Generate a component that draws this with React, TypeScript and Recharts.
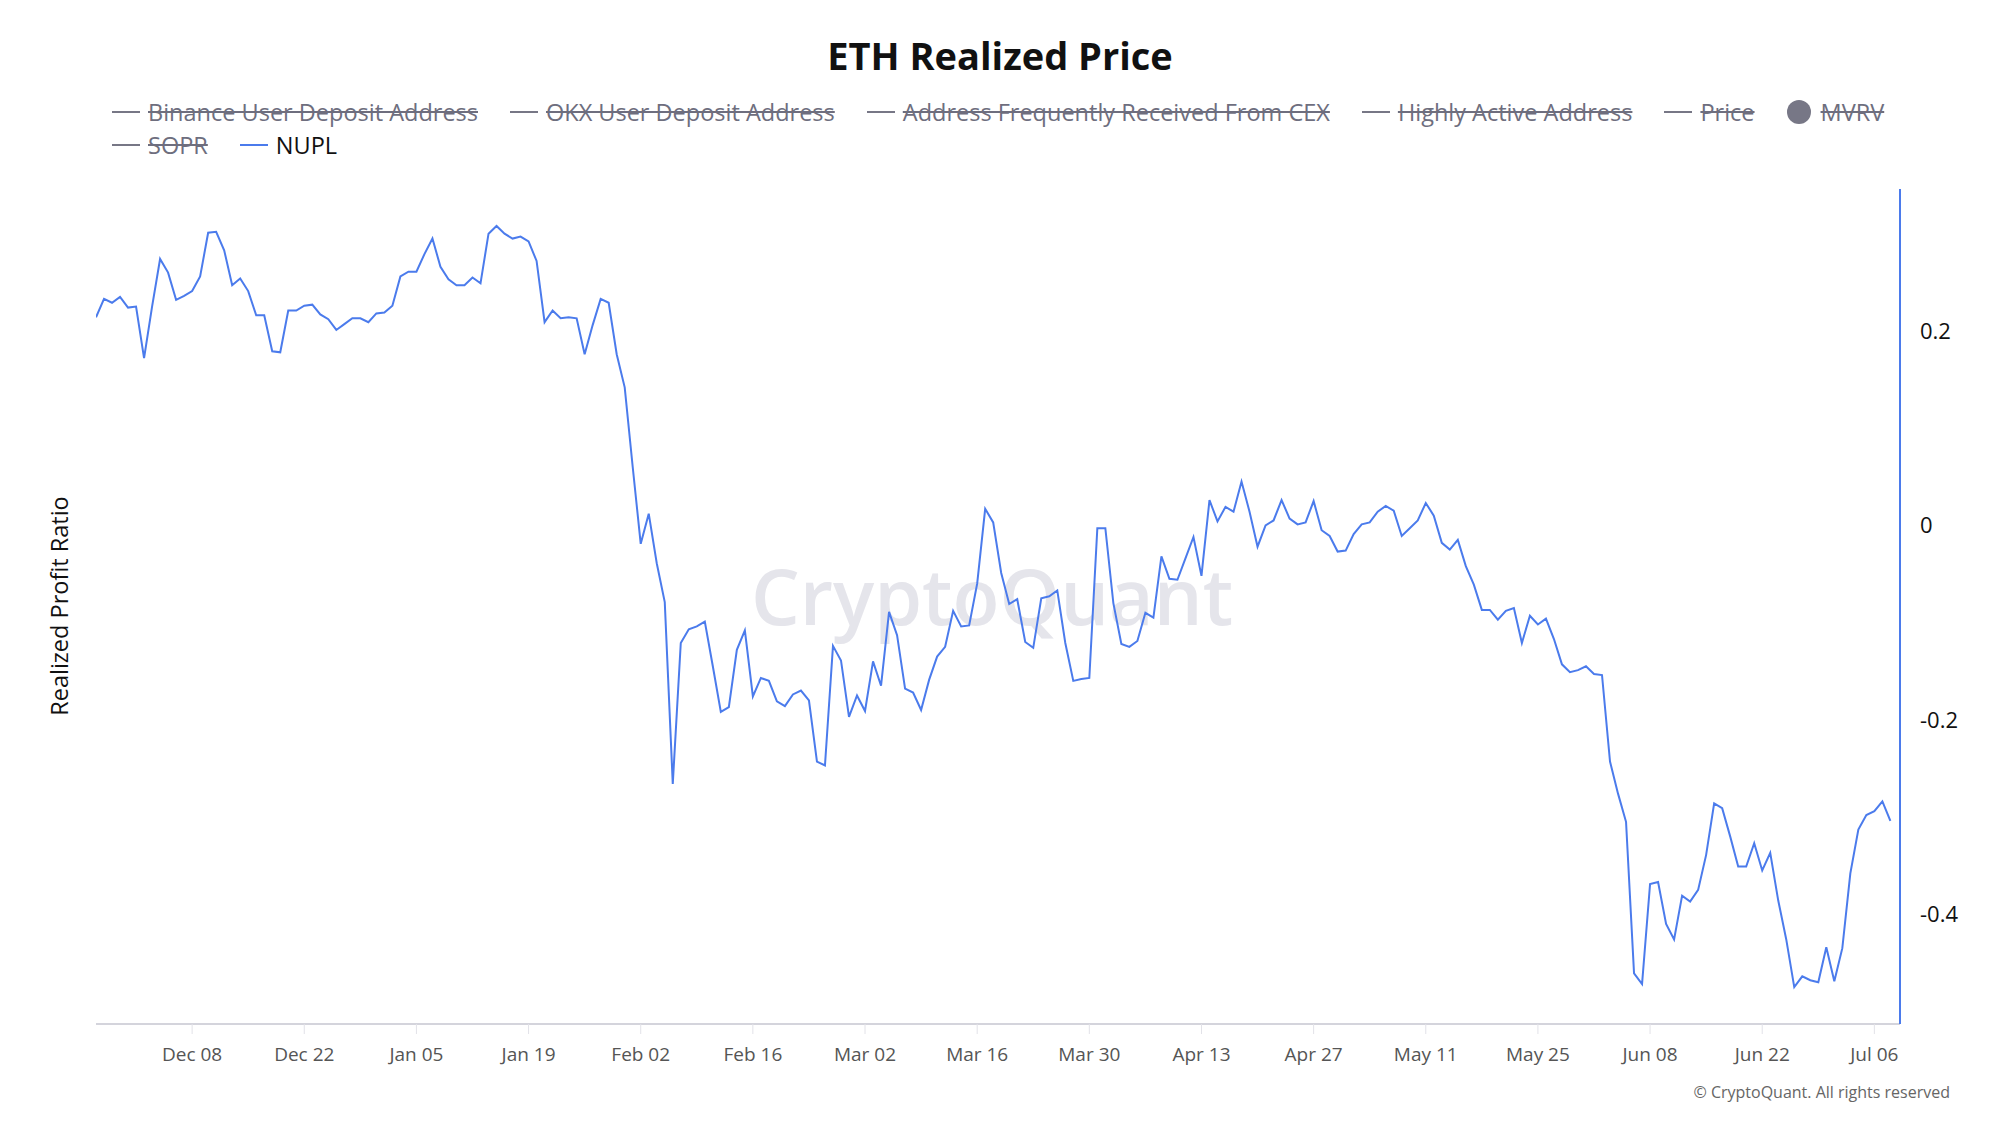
import React from 'react';
import { LineChart, Line, XAxis, YAxis } from 'recharts';

// daily NUPL values, 2024-11-26 .. 2025-07-08
const startDate = '2024-11-26';
const nupl = [
  0.214, 0.233, 0.229, 0.235, 0.224, 0.225, 0.172, 0.225, 0.274, 0.260,
  0.232, 0.236, 0.241, 0.256, 0.301, 0.302, 0.283, 0.247, 0.254, 0.241,
  0.216, 0.216, 0.179, 0.178, 0.221, 0.221, 0.226, 0.227, 0.217, 0.212,
  0.201, 0.207, 0.213, 0.213, 0.209, 0.218, 0.219, 0.226, 0.256, 0.261,
  0.261, 0.279, 0.295, 0.266, 0.253, 0.247, 0.247, 0.255, 0.249, 0.300,
  0.308, 0.300, 0.295, 0.297, 0.292, 0.272, 0.209, 0.221, 0.213, 0.214,
  0.213, 0.176, 0.206, 0.233, 0.229, 0.176, 0.142, 0.060, -0.019, 0.012,
  -0.039, -0.079, -0.266, -0.121, -0.107, -0.104, -0.099, -0.145, -0.192, -0.187,
  -0.128, -0.108, -0.176, -0.157, -0.160, -0.181, -0.186, -0.174, -0.170, -0.180,
  -0.243, -0.247, -0.124, -0.139, -0.197, -0.175, -0.191, -0.140, -0.165, -0.089,
  -0.113, -0.168, -0.172, -0.190, -0.159, -0.135, -0.125, -0.088, -0.104, -0.103,
  -0.060, 0.017, 0.003, -0.049, -0.081, -0.076, -0.120, -0.126, -0.075, -0.073,
  -0.067, -0.121, -0.160, -0.158, -0.157, -0.003, -0.003, -0.080, -0.122, -0.125,
  -0.119, -0.090, -0.095, -0.032, -0.055, -0.056, -0.034, -0.012, -0.052, 0.026,
  0.004, 0.019, 0.014, 0.045, 0.014, -0.022, 0.000, 0.005, 0.026, 0.007,
  0.001, 0.003, 0.025, -0.005, -0.011, -0.027, -0.026, -0.009, 0.001, 0.003,
  0.014, 0.020, 0.015, -0.011, -0.003, 0.005, 0.023, 0.010, -0.018, -0.025,
  -0.015, -0.042, -0.061, -0.087, -0.087, -0.097, -0.088, -0.085, -0.121, -0.093,
  -0.102, -0.096, -0.117, -0.143, -0.151, -0.149, -0.145, -0.153, -0.154, -0.243,
  -0.276, -0.305, -0.461, -0.472, -0.369, -0.367, -0.410, -0.426, -0.381, -0.387,
  -0.375, -0.339, -0.286, -0.291, -0.320, -0.351, -0.351, -0.327, -0.355, -0.337,
  -0.386, -0.426, -0.475, -0.464, -0.468, -0.470, -0.434, -0.469, -0.435, -0.358,
  -0.313, -0.298, -0.294, -0.284, -0.304,
];

// x ticks (day index from start) and their labels
const xTickDays = [12, 26, 40, 54, 68, 82, 96, 110, 124, 138, 152, 166, 180, 194, 208, 222];
const xTickLabels = [
  'Dec 08', 'Dec 22', 'Jan 05', 'Jan 19', 'Feb 02', 'Feb 16', 'Mar 02', 'Mar 16',
  'Mar 30', 'Apr 13', 'Apr 27', 'May 11', 'May 25', 'Jun 08', 'Jun 22', 'Jul 06',
];
const yTicks = [-0.4, -0.2, 0, 0.2];

// legend: first row, second row; hidden = struck through
const legendRow1 = [
  { name: 'Binance User Deposit Address', icon: 'line', hidden: true },
  { name: 'OKX User Deposit Address', icon: 'line', hidden: true },
  { name: 'Address Frequently Received From CEX', icon: 'line', hidden: true },
  { name: 'Highly Active Address', icon: 'line', hidden: true },
  { name: 'Price', icon: 'line', hidden: true },
  { name: 'MVRV', icon: 'circle', hidden: true },
];
const legendRow2 = [
  { name: 'SOPR', icon: 'line', hidden: true },
  { name: 'NUPL', icon: 'line', hidden: false },
];

const BLUE = '#4b7bec';
const FONT = '"Open Sans", "Noto Sans", sans-serif';

const data = nupl.map((v, i) => {
  const d = new Date(startDate + 'T00:00:00Z');
  d.setUTCDate(d.getUTCDate() + i);
  return { day: i, date: d.toISOString().slice(0, 10), nupl: v };
});

const LegendItem = ({ item }: { item: { name: string; icon: string; hidden: boolean } }) => (
  <div style={{ display: 'flex', alignItems: 'center' }}>
    {item.icon === 'circle' ? (
      <span
        style={{
          width: 24,
          height: 24,
          borderRadius: 12,
          background: '#777786',
          display: 'inline-block',
          marginRight: 10,
        }}
      />
    ) : (
      <span
        style={{
          width: 28,
          height: 2,
          background: item.hidden ? '#777786' : BLUE,
          display: 'inline-block',
          marginRight: 8,
        }}
      />
    )}
    <span
      style={{
        color: item.hidden ? '#6e6e7e' : '#111',
        textDecoration: item.hidden ? 'line-through' : 'none',
      }}
    >
      {item.name}
    </span>
  </div>
);

export default function App() {
  return (
    <div
      style={{
        position: 'absolute',
        left: 0,
        top: 0,
        width: 2000,
        height: 1125,
        background: '#fff',
        fontFamily: FONT,
        overflow: 'hidden',
      }}
    >
      <div
        style={{
          position: 'absolute',
          top: 29,
          width: 2000,
          textAlign: 'center',
          fontSize: 38,
          fontWeight: 700,
          color: '#111',
        }}
      >
        ETH Realized Price
      </div>

      <div style={{ position: 'absolute', left: 112, top: 95, fontSize: 23.5 }}>
        <div style={{ display: 'flex', gap: 32, height: 33 }}>
          {legendRow1.map((it) => (
            <LegendItem key={it.name} item={it} />
          ))}
        </div>
        <div style={{ display: 'flex', gap: 32, height: 33 }}>
          {legendRow2.map((it) => (
            <LegendItem key={it.name} item={it} />
          ))}
        </div>
      </div>

      {/* watermark */}
      <div
        style={{
          position: 'absolute',
          top: 543,
          left: 0,
          width: 1984,
          textAlign: 'center',
          fontSize: 77,
          fontWeight: 600,
          color: '#e5e5eb',
        }}
      >
        CryptoQuant
      </div>

      <div
        style={{
          position: 'absolute',
          left: 59,
          top: 606,
          transform: 'translate(-50%, -50%) rotate(-90deg)',
          fontSize: 23.5,
          color: '#111',
          whiteSpace: 'nowrap',
        }}
      >
        Realized Profit Ratio
      </div>

      <div style={{ position: 'absolute', left: 0, top: 0 }}>
        <LineChart
          width={2000}
          height={1125}
          data={data}
          margin={{ top: 189, right: 20, bottom: 41, left: 96 }}
        >
          <XAxis
            dataKey="day"
            type="number"
            domain={[0, 225.2]}
            ticks={xTickDays}
            interval={0}
            tickFormatter={(v: number) => xTickLabels[xTickDays.indexOf(v)] ?? ''}
            height={60}
            axisLine={{ stroke: '#d4d4dc', strokeWidth: 2 }}
            tickLine={{ stroke: '#e2e2e8' }}
            tickSize={10}
            tickMargin={14}
            tick={{ fill: '#555', fontSize: 19 }}
            allowDataOverflow
          />
          <YAxis
            orientation="right"
            domain={[-0.513, 0.346]}
            ticks={yTicks}
            interval={0}
            width={80}
            axisLine={{ stroke: BLUE, strokeWidth: 2 }}
            tickLine={false}
            tickSize={8}
            tickMargin={12}
            tick={{ fill: '#111', fontSize: 22 }}
            allowDataOverflow
          />
          <Line
            type="linear"
            dataKey="nupl"
            name="NUPL"
            stroke={BLUE}
            strokeWidth={2}
            dot={false}
            isAnimationActive={false}
          />
        </LineChart>
      </div>

      <div
        style={{
          position: 'absolute',
          right: 50,
          top: 1081,
          fontSize: 16,
          color: '#666',
        }}
      >
        © CryptoQuant. All rights reserved
      </div>
    </div>
  );
}
